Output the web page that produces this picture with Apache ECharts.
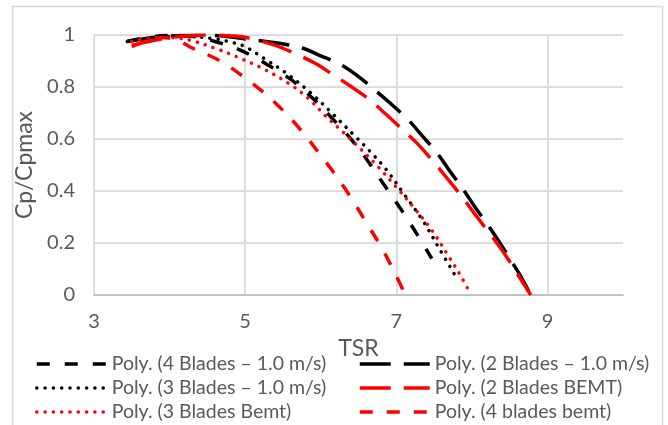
<!DOCTYPE html>
<html>
<head>
<meta charset="utf-8">
<script src="https://cdn.jsdelivr.net/npm/echarts@6/dist/echarts.min.js"></script>
<style>
html,body{margin:0;padding:0;background:#fff;}
#chart{width:668px;height:425px;}
</style>
</head>
<body>
<div id="chart"></div>
<script>
// Series names (legend order)
var names = [
  'Poly. (4 Blades \u2013 1.0 m/s)',
  'Poly. (2 Blades \u2013 1.0 m/s)',
  'Poly. (3 Blades \u2013 1.0 m/s)',
  'Poly. (2 Blades BEMT)',
  'Poly. (3 Blades Bemt)',
  'Poly. (4 blades bemt)'
];

// Axis ticks
var xTicks = [3, 5, 7, 9];
var yTicks = [0, 0.2, 0.4, 0.6, 0.8, 1];

// 4 Blades – 1.0 m/s
var tsr4 = [3.44, 3.7, 4.0, 4.3, 4.6, 4.95, 5.3, 5.6, 5.9, 6.15, 6.4, 6.6, 6.8, 7.05, 7.25, 7.47];
var cp4  = [0.975, 0.99, 0.998, 0.995, 0.975, 0.94, 0.885, 0.83, 0.755, 0.68, 0.60, 0.525, 0.44, 0.335, 0.245, 0.14];

// 2 Blades – 1.0 m/s
var tsr2 = [3.44, 3.8, 4.2, 4.6, 5.0, 5.4, 5.75, 6.0, 6.27, 6.5, 6.73, 6.95, 7.17, 7.35, 7.54, 7.7, 7.89, 8.05, 8.21, 8.35, 8.48, 8.63, 8.78];
var cp2  = [0.975, 0.99, 0.998, 0.998, 0.985, 0.97, 0.95, 0.92, 0.885, 0.84, 0.785, 0.73, 0.67, 0.61, 0.546, 0.48, 0.404, 0.335, 0.27, 0.21, 0.15, 0.08, 0.0];

// 3 Blades – 1.0 m/s
var tsr3 = [3.44, 3.8, 4.2, 4.6, 4.85, 5.0, 5.25, 5.55, 5.87, 6.16, 6.45, 6.65, 6.86, 7.11, 7.36, 7.58, 7.8];
var cp3  = [0.975, 0.99, 0.995, 0.985, 0.97, 0.955, 0.91, 0.852, 0.777, 0.696, 0.612, 0.553, 0.485, 0.385, 0.282, 0.173, 0.065];

// 2 Blades BEMT
var tsr2b = [3.5, 3.8, 4.1, 4.5, 4.9, 5.1, 5.38, 5.65, 5.92, 6.15, 6.41, 6.65, 6.86, 7.05, 7.27, 7.47, 7.67, 7.85, 8.03, 8.2, 8.37, 8.52, 8.67, 8.78];
var cp2b  = [0.96, 0.98, 0.993, 1.0, 0.995, 0.985, 0.962, 0.93, 0.892, 0.85, 0.80, 0.75, 0.696, 0.645, 0.585, 0.52, 0.45, 0.385, 0.315, 0.25, 0.185, 0.12, 0.05, 0.0];

// 3 Blades Bemt
var tsr3b = [3.5, 3.75, 4.0, 4.27, 4.63, 4.9, 5.22, 5.57, 5.83, 6.06, 6.3, 6.5, 6.77, 7.03, 7.25, 7.48, 7.69, 7.86, 7.97];
var cp3b  = [0.975, 0.99, 0.99, 0.98, 0.946, 0.915, 0.873, 0.815, 0.758, 0.69, 0.625, 0.57, 0.49, 0.405, 0.33, 0.245, 0.15, 0.07, 0.01];

// 4 blades bemt
var tsr4b = [3.5, 3.7, 3.9, 4.1, 4.3, 4.64, 4.93, 5.22, 5.5, 5.75, 5.98, 6.2, 6.41, 6.6, 6.8, 6.98, 7.12];
var cp4b  = [0.955, 0.978, 0.99, 0.98, 0.95, 0.905, 0.85, 0.785, 0.71, 0.63, 0.545, 0.46, 0.37, 0.28, 0.185, 0.085, 0.0];

function zip(xs, ys) { return xs.map(function (x, i) { return [x, ys[i]]; }); }

var FONT = 'Lato';
var TXT = '#595959';

function mk(name, xs, ys, color, dash, cap, width) {
  return {
    name: name,
    type: 'line',
    data: zip(xs, ys),
    smooth: 0.35,
    symbol: 'none',
    showSymbol: false,
    clip: true,
    lineStyle: { color: color, width: width, type: dash, cap: cap },
    itemStyle: { color: color },
    emphasis: { disabled: true }
  };
}

var legendBase = {
  orient: 'vertical', top: 354, padding: 0,
  itemWidth: 70, itemHeight: 20, itemGap: 4,
  itemStyle: { opacity: 0, borderWidth: 0 },
  lineStyle: { width: 3.5 },
  textStyle: { fontFamily: FONT, fontSize: 19.5, color: TXT, lineHeight: 20 }
};

var chart = echarts.init(document.getElementById('chart'), null, { renderer: 'canvas' });
chart.setOption({
  animation: false,
  backgroundColor: '#ffffff',
  textStyle: { fontFamily: FONT },
  graphic: [{
    type: 'rect',
    shape: { x: 12.5, y: 6.5, width: 650, height: 440 },
    style: { fill: 'none', stroke: '#d9d9d9', lineWidth: 1.5 },
    silent: true, z: -1
  }],
  grid: { left: 94, right: 45, top: 35, bottom: 130, containLabel: false },
  xAxis: {
    type: 'value', min: 3, max: 10, interval: 2,
    name: 'TSR', nameLocation: 'middle', nameGap: 40,
    nameTextStyle: { fontFamily: FONT, fontSize: 23, color: TXT },
    axisLine: { show: true, lineStyle: { color: '#bfbfbf', width: 1.75 } },
    axisTick: { show: false },
    axisLabel: { fontFamily: FONT, fontSize: 20, color: TXT, margin: 17, showMaxLabel: false },
    splitLine: { show: true, showMaxLine: false, lineStyle: { color: '#d9d9d9', width: 1.75 } }
  },
  yAxis: {
    type: 'value', min: 0, max: 1, interval: 0.2,
    name: 'Cp/Cpmax', nameLocation: 'middle', nameGap: 46, nameRotate: 90,
    nameTextStyle: { fontFamily: FONT, fontSize: 23, color: TXT },
    axisLine: { show: false },
    axisTick: { show: false },
    axisLabel: { fontFamily: FONT, fontSize: 20, color: TXT, margin: 19 },
    splitLine: { show: true, lineStyle: { color: '#d9d9d9', width: 1.75 } }
  },
  legend: [
    Object.assign({}, legendBase, { left: 35, data: [names[0], names[2], names[4]] }),
    Object.assign({}, legendBase, { left: 358, data: [names[1], names[3], names[5]] })
  ],
  series: [
    mk(names[0], tsr4, cp4, '#000000', [13, 15], 'butt', 3.5),
    mk(names[1], tsr2, cp2, '#000000', [31, 13], 'butt', 3.5),
    mk(names[2], tsr3, cp3, '#000000', [0.1, 8.2], 'round', 3.5),
    mk(names[3], tsr2b, cp2b, '#ff0000', [31, 13], 'butt', 3.5),
    mk(names[4], tsr3b, cp3b, '#ff0000', [0.1, 8.2], 'round', 3.5),
    mk(names[5], tsr4b, cp4b, '#ff0000', [13, 14], 'butt', 3.5)
  ]
});
</script>
</body>
</html>
